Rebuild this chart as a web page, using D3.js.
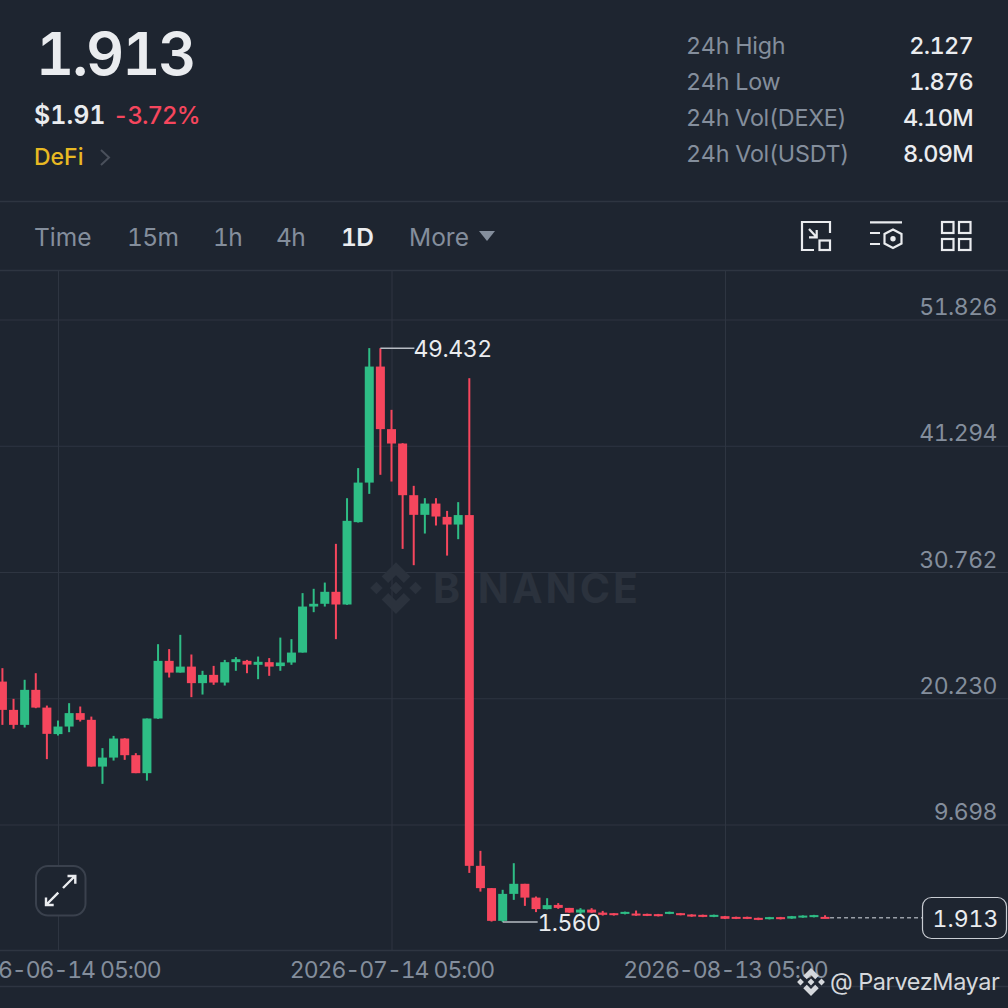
<!DOCTYPE html>
<html><head><meta charset="utf-8">
<script src="https://cdn.jsdelivr.net/npm/d3@7/dist/d3.min.js"></script>
<style>html,body{margin:0;padding:0;background:#1E2530}svg{display:block}text{font-family:Inter,"Noto Sans",sans-serif;font-feature-settings:"tnum" 1}</style>
</head><body><svg id="c" width="1008" height="1008"></svg>
<script>
const firstDay = "2026-06-09";
const opens  = [21.62,19.26,18.01,20.93,19.45,17.24,17.87,18.99,18.43,14.53,15.28,16.87,15.48,13.98,18.54,23.35,22.37,22.87,21.49,22.18,21.54,23.24,23.35,23.02,23.24,22.91,23.21,24.04,27.88,28.11,29.11,28.05,34.92,38.22,47.90,42.68,41.48,37.17,35.53,36.47,35.36,34.72,35.51,6.25,4.39,1.66,3.91,4.75,3.60,2.64,2.99,2.74,2.35,2.60,2.35,2.30,2.24,2.27,2.24,2.22,2.24,2.30,2.19,2.16,1.99,2.05,1.99,1.99,1.91,1.80,1.97,1.85,1.94,1.97,1.99];
const closes = [19.26,18.01,20.93,19.45,17.26,17.87,18.99,18.43,14.53,15.28,16.87,15.48,13.98,18.54,23.35,22.37,22.87,21.49,22.18,21.54,23.24,23.49,23.04,23.27,22.87,23.21,24.04,27.88,28.11,29.11,28.05,35.03,38.22,47.90,42.68,41.48,37.17,35.53,36.47,35.39,34.72,35.51,6.25,4.39,1.66,3.91,4.75,3.60,2.64,2.97,2.74,2.35,2.60,2.35,2.16,2.14,2.41,2.10,2.08,2.05,2.41,2.14,2.02,1.99,2.16,1.83,1.83,1.83,1.74,1.97,1.80,2.05,2.10,2.14,1.913];
const highs  = [22.74,20.18,21.77,22.32,19.62,18.37,19.82,19.54,18.70,16.07,17.09,16.90,15.65,18.54,24.74,24.33,25.52,23.88,22.52,22.93,23.43,23.66,23.43,23.71,23.58,25.29,25.16,29.00,29.36,29.88,33.11,36.92,39.43,49.44,49.432,44.29,41.51,37.95,36.92,36.92,35.86,36.59,46.93,7.50,4.39,4.25,6.47,4.75,3.69,3.55,3.14,2.74,2.72,2.72,2.49,2.30,2.43,2.52,2.26,2.24,2.43,2.32,2.21,2.18,2.18,2.07,2.01,2.01,1.93,1.99,1.99,2.07,2.12,2.16,2.127];
const lows   = [18.01,17.68,17.79,19.40,15.15,17.12,17.40,18.29,14.53,13.09,15.03,15.09,13.98,13.36,18.51,21.96,22.37,20.32,20.54,21.35,21.29,22.52,22.32,21.82,22.10,22.52,23.02,24.04,27.41,27.88,25.16,28.02,34.89,37.28,38.87,38.31,32.69,31.33,33.97,34.64,32.13,33.50,5.66,4.10,1.60,1.56,3.41,2.91,2.39,2.62,2.66,2.33,2.16,2.33,2.10,2.10,2.20,2.08,2.06,2.03,2.22,2.12,2.00,1.97,1.97,1.81,1.81,1.81,1.72,1.78,1.78,1.83,1.92,1.95,1.876];
const priceTicks = ["51.826","41.294","30.762","20.230","9.698"];
const timeTicks = ["2026-06-14 05:00","2026-07-14 05:00","2026-08-13 05:00"];
const tabs = ["Time","15m","1h","4h","1D","More"];
const statLabels = ["24h High","24h Low","24h Vol(DEXE)","24h Vol(USDT)"];
const statValues = ["2.127","1.876","4.10M","8.09M"];
const lastPrice = "1.913", usdPrice = "$1.91", change = "-3.72%", sector = "DeFi", maxPrice = "49.432", minPrice = "1.560";

const BG="#1E2530",GRID="#2E3541",RED="#F6465D",GREEN="#2EBD85",GREY="#848E9C",LIGHT="#EAECEF";
const svg=d3.select("#c");
const parseUTC=d3.utcParse("%Y-%m-%d %H:%M");
const x=d3.scaleUtc().domain([parseUTC(timeTicks[0]),parseUTC(timeTicks[2])]).range([58,725]);
const y=d3.scaleLinear().domain([+priceTicks[4],+priceTicks[0]]).range([824.5,319.5]);
const start=d3.utcParse("%Y-%m-%d")(firstDay);
const candles=opens.map((o,i)=>({t:d3.utcHour.offset(d3.utcDay.offset(start,i),5),o,c:closes[i],h:highs[i],l:lows[i]}));

svg.append("rect").attr("width",1008).attr("height",1008).attr("fill",BG);
function text(g,s,xp,yp,size,fill,weight,anchor,ls){return g.append("text").attr("x",xp).attr("y",yp).attr("font-size",size).attr("fill",fill).attr("font-weight",weight||400).attr("text-anchor",anchor||"start").attr("letter-spacing",ls||0).text(s);}

// frame lines
[201.5,270.5,950.5,986.5].forEach(v=>svg.append("line").attr("x1",0).attr("x2",1008).attr("y1",v).attr("y2",v).attr("stroke",GRID).attr("stroke-width",1.5));

// grid + axes
const gy=svg.append("g").call(d3.axisRight(y).tickValues(priceTicks.map(Number)).tickSize(1008).tickFormat((d,i)=>priceTicks[i]));
gy.select(".domain").remove();
gy.selectAll("line").attr("stroke",GRID).attr("stroke-width",1);
gy.selectAll("text").attr("x",997).attr("dy",0).attr("y",-5).attr("text-anchor","end").attr("font-size",23).attr("fill",GREY).attr("font-family","Inter").attr("letter-spacing",-0.5);
const gx=svg.append("g").attr("transform","translate(0,950)").call(d3.axisBottom(x).tickValues(timeTicks.map(parseUTC)).tickSize(-680).tickFormat((d,i)=>timeTicks[i]));
gx.select(".domain").remove();
gx.selectAll("line").attr("stroke",GRID).attr("stroke-width",1);
gx.selectAll("text").attr("y",28).attr("dy",0).attr("font-size",23).attr("fill",GREY).attr("font-family","Inter").attr("letter-spacing",-1.05);

// logo
function logo(g,cx,cy,s,fill){
  const k=s/24,n=g.append("g").attr("transform",`translate(${cx-12*k},${cy-12*k}) scale(${k})`).attr("fill",fill);
  ["M12 0.5L5.6 6.9L8.5 9.8L12 6.3L15.5 9.8L18.4 6.9Z","M12 23.5L5.6 17.1L8.5 14.2L12 17.7L15.5 14.2L18.4 17.1Z","M0.5 12L3.3 9.2L6.1 12L3.3 14.8Z","M23.5 12L20.7 9.2L17.9 12L20.7 14.8Z","M12 9.2L14.8 12L12 14.8L9.2 12Z"].forEach(p=>n.append("path").attr("d",p));
}
const wm=svg.append("g");
logo(wm,396,588,54,"#2B323D");
text(wm,"BINANCE",433,603,41,"#2B323D",700,"start",3);

// candles
const bw=9;
const cg=svg.append("g");
const sel=cg.selectAll("g").data(candles).join("g").attr("fill",d=>d.c>=d.o?GREEN:RED);
sel.append("rect").attr("x",d=>x(d.t)-1).attr("width",2).attr("y",d=>y(d.h)).attr("height",d=>y(d.l)-y(d.h));
sel.append("rect").attr("x",d=>x(d.t)-bw/2).attr("width",bw).attr("y",d=>y(Math.max(d.o,d.c))).attr("height",d=>Math.max(2,y(Math.min(d.o,d.c))-y(Math.max(d.o,d.c))));

// last price
const last=candles[candles.length-1];
svg.append("line").attr("x1",x(last.t)+5).attr("x2",922).attr("y1",y(+lastPrice)).attr("y2",y(+lastPrice)).attr("stroke","#9aa0a8").attr("stroke-width",1.5).attr("stroke-dasharray","4 3");
svg.append("rect").attr("x",922.5).attr("y",897.5).attr("width",84).attr("height",41).attr("rx",9).attr("fill",BG).attr("stroke","#C8CCD2").attr("stroke-width",1.2);
text(svg,lastPrice,965.5,927,23,LIGHT,400,"middle",0);

// max/min labels
const hi=candles.find(d=>d.h===+maxPrice), lo=candles.find(d=>d.l===+minPrice);
svg.append("line").attr("x1",x(hi.t)).attr("x2",x(hi.t)+34).attr("y1",y(+maxPrice)).attr("y2",y(+maxPrice)).attr("stroke","#B7BCC3").attr("stroke-width",1.5);
text(svg,maxPrice,413.5,357,23,LIGHT,400,"start",-0.4);
svg.append("line").attr("x1",x(lo.t)).attr("x2",x(lo.t)+35).attr("y1",y(+minPrice)).attr("y2",y(+minPrice)).attr("stroke","#B7BCC3").attr("stroke-width",1.5);
text(svg,minPrice,537.5,931,23,LIGHT,400,"start",-0.6);

// header
text(svg,lastPrice,36,75,59,LIGHT,600,"start",-2);
text(svg,usdPrice,34,124,25,LIGHT,600,"start",0);
text(svg,change,113,124,24,RED,500,"start",-1);
text(svg,sector,34,165,23,"#E8B923",500);
svg.append("path").attr("d","M101 150L109 157.5L101 165").attr("fill","none").attr("stroke","#4A505B").attr("stroke-width",2);

statLabels.forEach((s,i)=>{text(svg,s,686,54+36*i,23.3,GREY,400,"start",-0.25);text(svg,statValues[i],973,54+36*i,23.5,LIGHT,500,"end",-0.7);});

const tabX=[34,127,213,276,341,409];
tabs.forEach((s,i)=>text(svg,s,tabX[i],246,24.5,s==="1D"?LIGHT:GREY,s==="1D"?600:400,"start",/\d/.test(s)?-0.6:0));
svg.append("path").attr("d","M479 231H495L487 241Z").attr("fill",GREY);

// toolbar icons
const ic=svg.append("g").attr("fill","none").attr("stroke",LIGHT).attr("stroke-width",2.2);
ic.append("path").attr("d","M814 250H802V222H830V233");
ic.append("rect").attr("x",819.5).attr("y",240.5).attr("width",10.5).attr("height",9.5);
ic.append("path").attr("d","M809 229L816.7 237.3M816.7 230V237.3H809");
ic.append("path").attr("d","M870 222.3H902M870 233H880M870 244H880");
ic.append("path").attr("d","M893 229.5L901.5 234V243.5L893 248L884.5 243.5V234Z");
ic.append("circle").attr("cx",893).attr("cy",238.8).attr("r",1.6).attr("fill",LIGHT);
[[942,222],[959,222],[942,239],[959,239]].forEach(p=>ic.append("rect").attr("x",p[0]).attr("y",p[1]).attr("width",11.5).attr("height",11));

// expand button
svg.append("rect").attr("x",36).attr("y",866).attr("width",49.5).attr("height",49.5).attr("rx",12).attr("fill",BG).attr("stroke","#3A414D").attr("stroke-width",2);
const ex=svg.append("g").attr("fill","none").attr("stroke",LIGHT).attr("stroke-width",2.4);
ex.append("path").attr("d","M63 888L75 876M67.5 876H75.3V883.7M58.3 892.7L46 905M46 897.5V905H53.7");

// watermark
const wb=svg.append("g");
logo(wb,811,982,29,"#D5D8DC");
text(wb,"@ ParvezMayar",830,990,23.5,"#D5D8DC",400,"start",-0.4);
</script></body></html>
